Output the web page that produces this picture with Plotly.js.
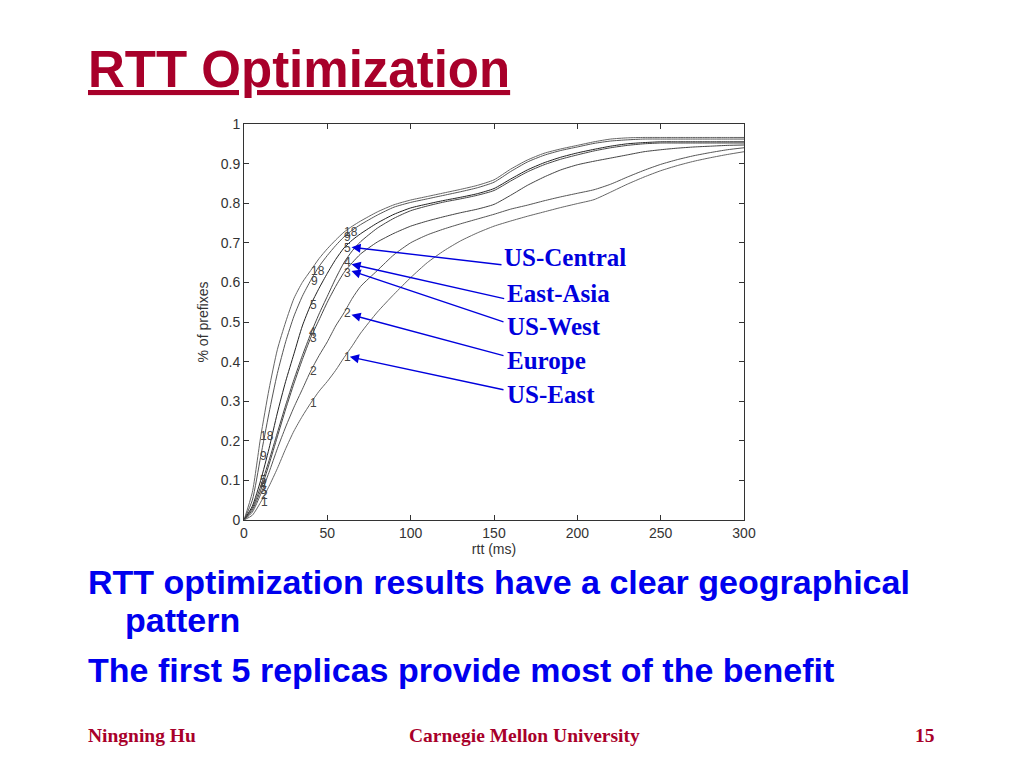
<!DOCTYPE html>
<html>
<head>
<meta charset="utf-8">
<script src="https://cdn.plot.ly/plotly-3.0.1.min.js"></script>
<style>
  html, body { margin: 0; padding: 0; background: #ffffff; }
  #chart { width: 1024px; height: 768px; }
</style>
</head>
<body>
<div id="chart"></div>
<script>
// ---- data ----
const rttMs = [0,5,10,15,20,25,30,35,40,45,50,55,60,65,70,80,90,100,110,120,130,140,150,160,170,180,190,200,210,220,230,240,250,260,270,280,290,300];

const replicas18 = [0,0.07,0.21,0.33,0.43,0.5,0.56,0.6,0.63,0.66,0.685,0.707,0.727,0.742,0.755,0.778,0.796,0.808,0.817,0.826,0.835,0.845,0.859,0.886,0.909,0.926,0.937,0.946,0.955,0.962,0.965,0.966,0.966,0.966,0.966,0.966,0.966,0.966];
const replicas9  = [0,0.05,0.16,0.27,0.37,0.45,0.515,0.565,0.605,0.64,0.668,0.693,0.715,0.732,0.746,0.77,0.79,0.802,0.811,0.82,0.829,0.839,0.853,0.880,0.904,0.921,0.933,0.942,0.951,0.957,0.960,0.962,0.962,0.962,0.962,0.962,0.962,0.962];
const replicas5  = [0,0.035,0.10,0.18,0.27,0.35,0.42,0.49,0.543,0.585,0.623,0.658,0.687,0.707,0.723,0.75,0.772,0.788,0.798,0.807,0.815,0.824,0.837,0.861,0.884,0.902,0.916,0.927,0.936,0.944,0.95,0.953,0.955,0.955,0.955,0.955,0.955,0.955];
const replicas4  = [0,0.03,0.085,0.15,0.22,0.29,0.355,0.415,0.47,0.52,0.565,0.61,0.65,0.68,0.703,0.737,0.762,0.781,0.793,0.803,0.811,0.82,0.832,0.856,0.879,0.897,0.911,0.922,0.932,0.94,0.946,0.95,0.952,0.952,0.952,0.952,0.952,0.952];
const replicas3  = [0,0.025,0.075,0.14,0.21,0.28,0.345,0.405,0.46,0.505,0.55,0.59,0.625,0.65,0.672,0.702,0.724,0.742,0.755,0.766,0.776,0.785,0.797,0.82,0.845,0.866,0.884,0.897,0.906,0.914,0.922,0.93,0.935,0.939,0.942,0.944,0.946,0.947];
const replicas2  = [0,0.02,0.065,0.12,0.18,0.235,0.285,0.33,0.376,0.415,0.45,0.49,0.523,0.56,0.59,0.63,0.67,0.7,0.72,0.735,0.748,0.76,0.772,0.785,0.795,0.806,0.816,0.825,0.834,0.848,0.866,0.883,0.898,0.91,0.92,0.928,0.935,0.94];
const replicas1  = [0,0.012,0.045,0.085,0.13,0.18,0.225,0.262,0.295,0.325,0.35,0.378,0.41,0.44,0.472,0.525,0.57,0.612,0.65,0.68,0.705,0.725,0.742,0.755,0.767,0.778,0.789,0.799,0.809,0.828,0.848,0.866,0.882,0.895,0.906,0.915,0.923,0.93];

const curveNames = ['18','9','5','4','3','2','1'];
const regionNames = ['US-Central','East-Asia','US-West','Europe','US-East']; // replicas 5,4,3,2,1
const xTicks = [0,50,100,150,200,250,300];
const yTicks = [0,0.1,0.2,0.3,0.4,0.5,0.6,0.7,0.8,0.9,1];

// ---- styles ----
const series = [replicas18, replicas9, replicas5, replicas4, replicas3, replicas2, replicas1];
const lineColors = ['#666666','#555555','#222222','#444444','#444444','#555555','#666666'];

const traces = series.map((ys, i) => ({
  type: 'scatter', mode: 'lines', x: rttMs, y: ys, name: curveNames[i],
  line: {color: lineColors[i], width: 1, shape: 'spline', smoothing: 0.6}, hoverinfo: 'skip'
}));

const annotations = [];
const labelFont = {family: 'Liberation Sans, Arial, sans-serif', size: 12, color: '#444444'};
// curve number labels at three places along the curves
const labelGroups = [
  {x: [14.0, 11.4, 11.4, 11.6, 11.8, 12.0, 12.4], y: [0.212, 0.162, 0.102, 0.089, 0.076, 0.063, 0.046]},
  {x: [44.4, 42.0, 41.4, 40.8, 41.4, 41.4, 41.4], y: [0.629, 0.604, 0.543, 0.475, 0.460, 0.376, 0.295]},
  {x: [64.0, 61.8, 61.8, 61.8, 61.8, 61.8, 61.8], y: [0.728, 0.715, 0.687, 0.652, 0.624, 0.523, 0.412]}
];
labelGroups.forEach(g => {
  curveNames.forEach((n, i) => {
    annotations.push({x: g.x[i], y: g.y[i], xref: 'x', yref: 'y', text: n, showarrow: false,
      font: labelFont, xanchor: 'center', yanchor: 'middle'});
  });
});

// blue arrows from region names to curves 5..1
const blue = '#0000dd';
const tips = [{x: 64.5, y: 0.689}, {x: 64.5, y: 0.646}, {x: 64.5, y: 0.629}, {x: 64.5, y: 0.518}, {x: 63.5, y: 0.412}];
const tails = [{x: 155.4, y: 0.644}, {x: 157.0, y: 0.558}, {x: 156.6, y: 0.499}, {x: 156.6, y: 0.414}, {x: 156.6, y: 0.328}];
const textPos = [{x: 155.0, y: 0.662}, {x: 156.6, y: 0.573}, {x: 156.6, y: 0.488}, {x: 156.6, y: 0.403}, {x: 156.6, y: 0.317}];
regionNames.forEach((r, i) => {
  annotations.push({x: tips[i].x, y: tips[i].y, ax: tails[i].x, ay: tails[i].y, xref: 'x', yref: 'y',
    axref: 'x', ayref: 'y', text: '', showarrow: true, arrowhead: 2, arrowsize: 1.3, arrowwidth: 1.4,
    arrowcolor: blue, standoff: 0});
  annotations.push({x: textPos[i].x, y: textPos[i].y, xref: 'x', yref: 'y', text: '<b>' + r + '</b>',
    showarrow: false, xanchor: 'left', yanchor: 'middle',
    font: {family: 'Liberation Serif, Times New Roman, serif', size: 25, color: blue}});
});

// slide texts
const red = '#a8002a';
const bodyBlue = '#0000ee';
const sans = 'Liberation Sans, Arial, sans-serif';
const serif = 'Liberation Serif, Times New Roman, serif';
annotations.push({xref: 'paper', yref: 'paper', x: -0.316, y: 1.137, xanchor: 'left', yanchor: 'middle',
  text: '<b><u>RTT Optimization</u></b>', showarrow: false, font: {family: sans, size: 51, color: red}});
annotations.push({xref: 'paper', yref: 'paper', x: -0.316, y: -0.157, xanchor: 'left', yanchor: 'middle',
  text: '<b>RTT optimization results have a clear geographical</b>', showarrow: false,
  font: {family: sans, size: 34, color: bodyBlue}});
annotations.push({xref: 'paper', yref: 'paper', x: -0.242, y: -0.2525, xanchor: 'left', yanchor: 'middle',
  text: '<b>pattern</b>', showarrow: false, font: {family: sans, size: 34, color: bodyBlue}});
annotations.push({xref: 'paper', yref: 'paper', x: -0.316, y: -0.379, xanchor: 'left', yanchor: 'middle',
  text: '<b>The first 5 replicas provide most of the benefit</b>', showarrow: false,
  font: {family: sans, size: 34, color: bodyBlue}});
annotations.push({xref: 'paper', yref: 'paper', x: -0.316, y: -0.543, xanchor: 'left', yanchor: 'middle',
  text: '<b>Ningning Hu</b>', showarrow: false, font: {family: serif, size: 19.5, color: red}});
annotations.push({xref: 'paper', yref: 'paper', x: 0.326, y: -0.543, xanchor: 'left', yanchor: 'middle',
  text: '<b>Carnegie Mellon University</b>', showarrow: false, font: {family: serif, size: 19.5, color: red}});
annotations.push({xref: 'paper', yref: 'paper', x: 1.386, y: -0.543, xanchor: 'right', yanchor: 'middle',
  text: '<b>15</b>', showarrow: false, font: {family: serif, size: 19.5, color: red}});

const axisCommon = {
  showgrid: false, zeroline: false, showline: true, linecolor: '#333333', linewidth: 1,
  mirror: 'ticks', ticks: 'inside', ticklen: 5, tickcolor: '#333333', tickwidth: 1,
  tickfont: {family: sans, size: 14, color: '#333333'}
};

const layout = {
  width: 1024, height: 768,
  margin: {l: 244, r: 280, t: 124, b: 248},
  paper_bgcolor: '#ffffff', plot_bgcolor: '#ffffff',
  showlegend: false,
  xaxis: Object.assign({}, axisCommon, {
    range: [0, 300], tickvals: xTicks, ticktext: xTicks.map(String),
    title: {text: 'rtt (ms)', font: {family: sans, size: 14, color: '#333333'}, standoff: 2}
  }),
  yaxis: Object.assign({}, axisCommon, {
    range: [0, 1], tickvals: yTicks, ticktext: yTicks.map(String),
    title: {text: '% of prefixes', font: {family: sans, size: 14, color: '#333333'}, standoff: 8}
  }),
  annotations: annotations
};

Plotly.newPlot('chart', traces, layout, {staticPlot: true, displayModeBar: false});
</script>
</body>
</html>
